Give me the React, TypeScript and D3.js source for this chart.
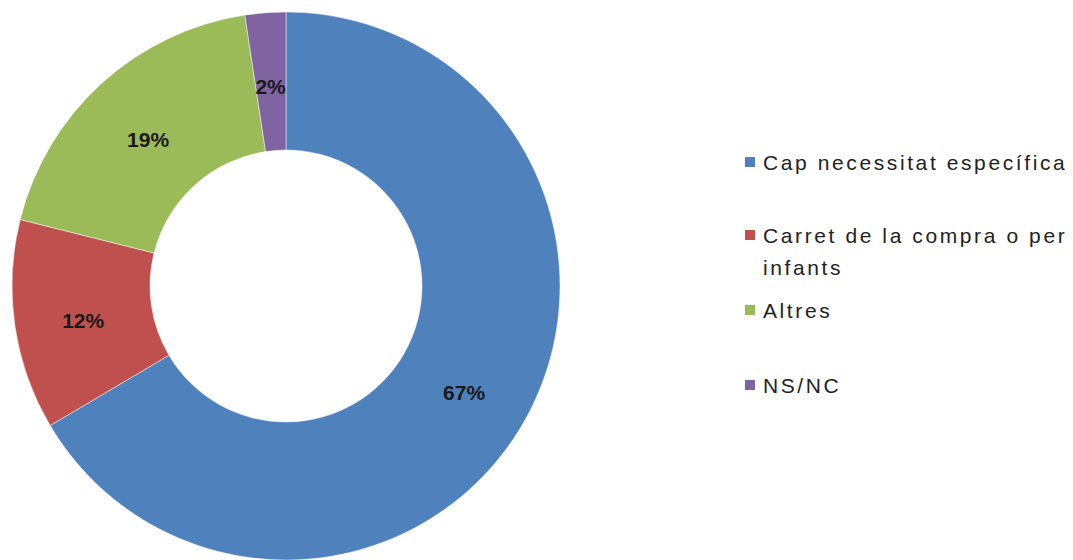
import React from "react";
import * as d3 from "d3";

const categories = ["Cap necessitat específica", "Carret de la compra o per infants", "Altres", "NS/NC"];
const values = [66.5, 12.4, 18.7, 2.4];
const labels = ["67%", "12%", "19%", "2%"];
const legendLines = [["Cap necessitat específica"], ["Carret de la compra o per", "infants"], ["Altres"], ["NS/NC"]];
const colors = ["#4F81BD", "#C0504D", "#9BBB59", "#8064A2"];

const W = 1073;
const H = 560;
const cx = 286;
const cy = 286;
const outerR = 274;
const innerR = 136;

export default function App() {
  const pie = d3.pie<number>().sort(null).value((d) => d);
  const arcs = pie(values);
  const arcGen = d3.arc<d3.PieArcDatum<number>>().innerRadius(innerR).outerRadius(outerR);
  const labelR = (innerR + outerR) / 2;
  const labelArc = d3.arc<d3.PieArcDatum<number>>().innerRadius(labelR).outerRadius(labelR);

  const legendY = d3.scaleOrdinal<string, number>().domain(categories).range([162, 235, 310, 385]);
  const lineH = 32;

  return (
    <svg width={W} height={H} style={{ position: "absolute", left: 0, top: 0, background: "#fff" }}
      fontFamily="'Liberation Sans', Arial, sans-serif">
      <g transform={`translate(${cx},${cy})`}>
        {arcs.map((a, i) => (
          <path key={i} d={arcGen(a) || ""} fill={colors[i]} stroke="#fff" strokeOpacity={0.6} strokeWidth={0.8} />
        ))}
        {arcs.map((a, i) => {
          const [x, y] = labelArc.centroid(a);
          return (
            <text key={i} x={x} y={y + 5} textAnchor="middle" dominantBaseline="central"
              fontSize={21} fontWeight="bold" fill="#1a1a1a">
              {labels[i]}
            </text>
          );
        })}
      </g>
      <g>
        {categories.map((c, i) => {
          const y = legendY(c);
          return (
            <g key={c}>
              <rect x={745} y={y - 5} width={10} height={10} fill={colors[i]} />
              {legendLines[i].map((ln, j) => (
                <text key={j} x={763} y={y + j * lineH} dominantBaseline="central" fontSize={21}
                  letterSpacing={2.6} fill="#222">
                  {ln}
                </text>
              ))}
            </g>
          );
        })}
      </g>
    </svg>
  );
}
